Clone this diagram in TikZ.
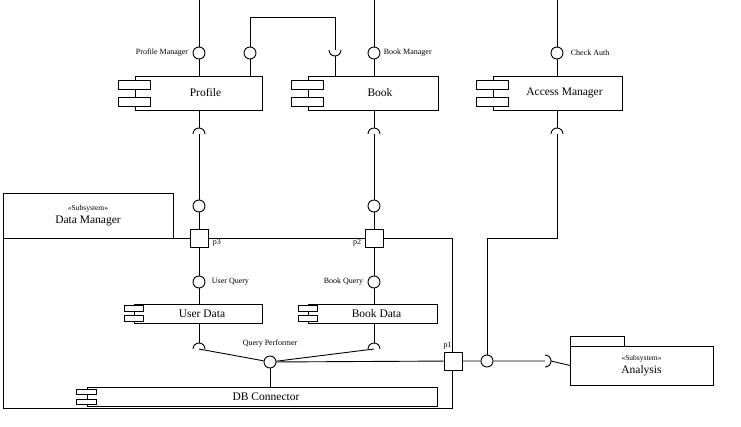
\documentclass[tikz,border=0pt]{standalone}
\usepackage{fontspec}
\setmainfont{Liberation Serif}
\usetikzlibrary{calc}

% the two small tabs of a component box: node, tab width, tab height, distance
\newcommand{\comptabs}[4]{%
  \foreach \s in {1,-1}
    \draw[fill=white] ([xshift=-#2pt/2, yshift=\s*#4pt/2-#3pt/2]#1.west) rectangle ++(#2pt,#3pt);
}
% required interface: coordinate, start angle, end angle
\newcommand{\socket}[3]{%
  \draw ([shift={(#2:6pt)}]#1) arc[start angle=#2, end angle=#3, radius=6pt];
}

\begin{document}
\begin{tikzpicture}[x=1pt,y=-1pt,line width=0.9pt,
    comp/.style={draw, fill=white, inner sep=0pt, font=\fontsize{11.5}{13}\selectfont,
      execute at begin node={\hspace{#1}}},
    comp/.default=14pt,
    iface/.style={draw, circle, fill=white, minimum size=12pt, inner sep=0pt},
    port/.style={draw, fill=white, minimum size=18pt, inner sep=0pt},
    lbl/.style={font=\fontsize{8}{9}\selectfont, inner sep=1pt},
    subsys/.style={draw, align=center, inner sep=0pt, outer sep=0pt, font=\fontsize{11.5}{12}\selectfont}]
  \useasboundingbox (0,0) rectangle (741,426);

  % subsystem Data Manager
  \node[subsys, minimum width=170pt, minimum height=45pt] (dmtab) at (88,215.5)
    {{\fontsize{7.5}{8}\selectfont «Subsystem»}\\[1.5pt]Data Manager};
  \node[draw, minimum width=449pt, minimum height=170pt, outer sep=0pt, anchor=north west] (dmframe) at (dmtab.south west) {};

  % components
  \node[comp, minimum width=127pt, minimum height=34pt] (profile) at (198.5,93) {Profile};
  \node[comp, minimum width=130pt, minimum height=34pt] (book) at (373,93) {Book};
  \node[comp, minimum width=129pt, minimum height=34pt] (access) at (557.5,93) {Access Manager};
  \node[comp=8pt, minimum width=128pt, minimum height=19pt] (userdata) at (198,313.5) {User Data};
  \node[comp=8pt, minimum width=129pt, minimum height=19pt] (bookdata) at (372.5,313.5) {Book Data};
  \node[comp=8pt, minimum width=350pt, minimum height=19pt] (dbconn) at (262,396.5) {DB Connector};
  \comptabs{profile}{32}{9}{17}
  \comptabs{book}{32}{9}{17}
  \comptabs{access}{32}{9}{17}
  \comptabs{userdata}{19}{6}{10.5}
  \comptabs{bookdata}{19}{6}{10.5}
  \comptabs{dbconn}{20}{5}{10}

  % subsystem Analysis
  \node[subsys, minimum width=143pt, minimum height=39pt] (analysis) at (641.5,365.5)
    {{\fontsize{7.5}{8}\selectfont «Subsystem»}\\[1pt]Analysis};
  \node[draw, minimum width=54pt, minimum height=10pt, inner sep=0pt, outer sep=0pt,
    anchor=south west] (antab) at (analysis.north west) {};

  % provided interfaces
  \coordinate (pmtop) at (199,0);
  \coordinate (bmtop) at (374,0);
  \coordinate (catop) at (557,0);
  \node[iface, label={[lbl,label distance=3pt]left:Profile Manager}] (pm) at (199,53) {};
  \node[iface] (pl) at (250,53) {};
  \node[iface, label={[lbl,label distance=2pt]right:Book Manager}] (bm) at (374,53) {};
  \node[iface, label={[lbl,label distance=6pt]right:Check Auth}] (ca) at (557,53) {};
  \node[iface] (dmp) at (199,206) {};
  \node[iface] (dmb) at (374,206) {};
  \node[iface, label={[lbl,label distance=5pt]right:User Query}] (uq) at (199,282) {};
  \node[iface, label={[lbl,label distance=3pt]left:Book Query}] (bq) at (374,282) {};
  \node[iface, label={[lbl,label distance=7pt]above:Query Performer}] (qp) at (270,362) {};
  \node[iface] (anl) at (487,361) {};

  % ports
  \node[port, label={[lbl,anchor=south west,xshift=3pt]south east:p3}] (p3) at (199,238) {};
  \node[port, label={[lbl,anchor=south east,xshift=-2pt]south west:p2}] (p2) at (374,238) {};
  \node[port, label={[lbl,anchor=south east,yshift=1pt]north:p1}] (p1) at (453,361) {};

  % required interfaces
  \coordinate (sbk) at (335,50);
  \coordinate (spu) at (199,134);
  \coordinate (sbu) at (374,134);
  \coordinate (sac) at (557,134);
  \coordinate (sud) at (199,349);
  \coordinate (sbd) at (374,349);
  \coordinate (san) at (545,361);
  \socket{sbk}{180}{360}
  \socket{spu}{180}{0}
  \socket{sbu}{180}{0}
  \socket{sac}{180}{0}
  \socket{sud}{180}{0}
  \socket{sbd}{180}{0}
  \socket{san}{90}{-90}

  % Profile
  \draw (pmtop) -- (pm);
  \draw (pm) -- (pm |- profile.north);
  \draw (pl) -- (pl |- profile.north);
  \draw (pl.north) |- ([yshift=33pt]sbk) -- (sbk);
  \draw ([yshift=-6pt]sbk) -- (sbk |- book.north);
  \draw (spu |- profile.south) -- ([yshift=6pt]spu);
  \draw (spu) -- (dmp) -- (p3) -- (uq) -- (uq |- userdata.north);
  \draw (sud |- userdata.south) -- ([yshift=6pt]sud);
  \draw (sud) -- (qp);

  % Book
  \draw (bmtop) -- (bm) -- (bm |- book.north);
  \draw (sbu |- book.south) -- ([yshift=6pt]sbu);
  \draw (sbu) -- (dmb) -- (p2) -- (bq) -- (bq |- bookdata.north);
  \draw (sbd |- bookdata.south) -- ([yshift=6pt]sbd);
  \draw (sbd) -- (qp);

  % DB Connector and Analysis
  \draw (qp) -- (qp |- dbconn.north);
  \draw (qp) -- (p1) -- (anl) -- (san);
  \draw ([xshift=6pt]san) -- (analysis.west);

  % Access Manager
  \draw (catop) -- (ca) -- (ca |- access.north);
  \draw (sac |- access.south) -- ([yshift=6pt]sac);
  \draw (sac) -- (sac |- p2) -| (anl);
\end{tikzpicture}
\end{document}
